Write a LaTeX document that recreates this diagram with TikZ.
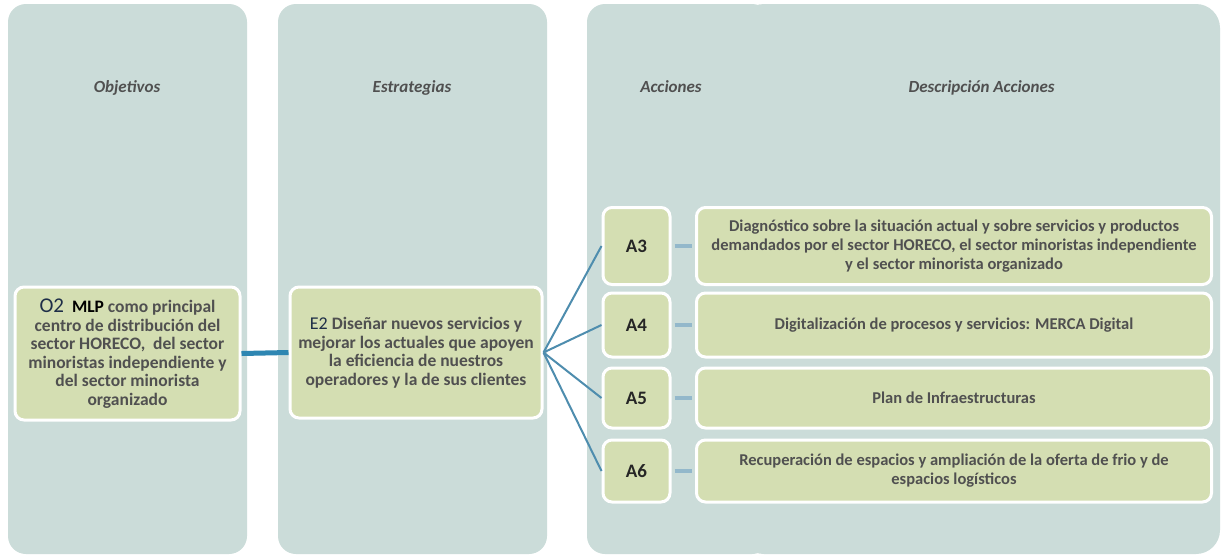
\documentclass[tikz,border=0pt]{standalone}
\usepackage{fontspec}
\setmainfont{Carlito}
\usetikzlibrary{calc}
\definecolor{panelc}{HTML}{CBDCD9}
\definecolor{boxc}{HTML}{D4DEB2}
\definecolor{txtc}{HTML}{505050}
\definecolor{linec}{HTML}{4E8DAE}
\definecolor{barc}{HTML}{2E86B2}
\definecolor{stubc}{HTML}{93B8CB}
\definecolor{navy}{HTML}{1E2E48}
\tikzset{panel/.style={fill=panelc, rounded corners=18pt}}
\tikzset{hd/.style={anchor=base, font=\fontsize{17}{19}\selectfont\bfseries\itshape, text=txtc}}
\tikzset{bx/.style={draw=white, line width=3pt, fill=boxc, rounded corners=9pt, align=center, inner sep=0pt, text=txtc, font=\fontsize{17.5}{18.5}\selectfont\bfseries}}
\tikzset{ac/.style={bx, minimum width=67pt, text=black!85, font=\fontsize{19}{19}\selectfont\bfseries}}
\tikzset{ds/.style={bx, minimum width=515pt, font=\fontsize{16.5}{19}\selectfont\bfseries}}
\tikzset{lnk/.style={draw=linec, line width=2pt}}
\tikzset{stub/.style={draw=stubc, line width=4pt}}

\begin{document}
\begin{tikzpicture}[x=1pt,y=-1pt]
    \useasboundingbox (0,0) rectangle (1222,557);
    \fill[white] (0,0) rectangle (1222,557);
    \fill[panel] (8,4) rectangle (247,554);
    \fill[panel] (278,4) rectangle (547,554);
    \fill[panel] (587,4) rectangle (770,554);
    \fill[panel, rounded corners=24pt] (740,4) rectangle (1220,554);
    \node[hd] (hobj) at (127,92) {Objetivos};
    \node[hd] (hest) at (412,92) {Estrategias};
    \node[hd] (hacc) at (671,92) {Acciones};
    \node[hd, anchor=base west] (hdes) at (905,92) {Descripción Acciones};
    \node[bx, minimum width=225pt, minimum height=133pt] (o2) at (127.5,353.5)
      {{\color{navy}\mdseries\fontsize{21}{18.5}\selectfont O2}\ \ {\color{black}MLP} como principal\\centro de distribución del\\sector HORECO,\ \ del sector\\minoristas independiente y\\del sector minorista\\organizado};
    \node[bx, minimum width=252pt, minimum height=131pt] (e2) at (416,352.5)
      {{\color{navy}\mdseries\fontsize{18}{18.5}\selectfont E2} Diseñar nuevos servicios y\\mejorar los actuales que apoyen\\la eficiencia de nuestros\\operadores y la de sus clientes};
    \node[ac, minimum height=77pt] (a3) at (636.5,246) {A3};
    \node[ac, minimum height=64pt] (a4) at (636.5,325) {A4};
    \node[ac, minimum height=60pt] (a5) at (636.5,398) {A5};
    \node[ac, minimum height=62pt] (a6) at (636.5,471) {A6};
    \node[ds, minimum height=77pt] (d3) at (954,246) {Diagnóstico sobre la situación actual y sobre servicios y productos\\demandados por el sector HORECO, el sector minoristas independiente\\y el sector minorista organizado};
    \node[ds, minimum height=64pt] (d4) at (954,325) {Digitalización de procesos y servicios: MERCA Digital};
    \node[ds, minimum height=60pt] (d5) at (954,398) {Plan de Infraestructuras};
    \node[ds, minimum height=62pt] (d6) at (954,471) {Recuperación de espacios y ampliación de la oferta de frio y de\\espacios logísticos};
    \draw[draw=barc, line width=5pt] (o2.east) -- (e2.west);
    \foreach \n in {3,4,5,6} \draw[lnk] (e2.east) -- (a\n.west);
    \foreach \n in {3,4,5,6} \draw[stub] ($(a\n.east)+(3,0)$) -- ($(d\n.west)+(-3,0)$);
  \end{tikzpicture}
\end{document}
